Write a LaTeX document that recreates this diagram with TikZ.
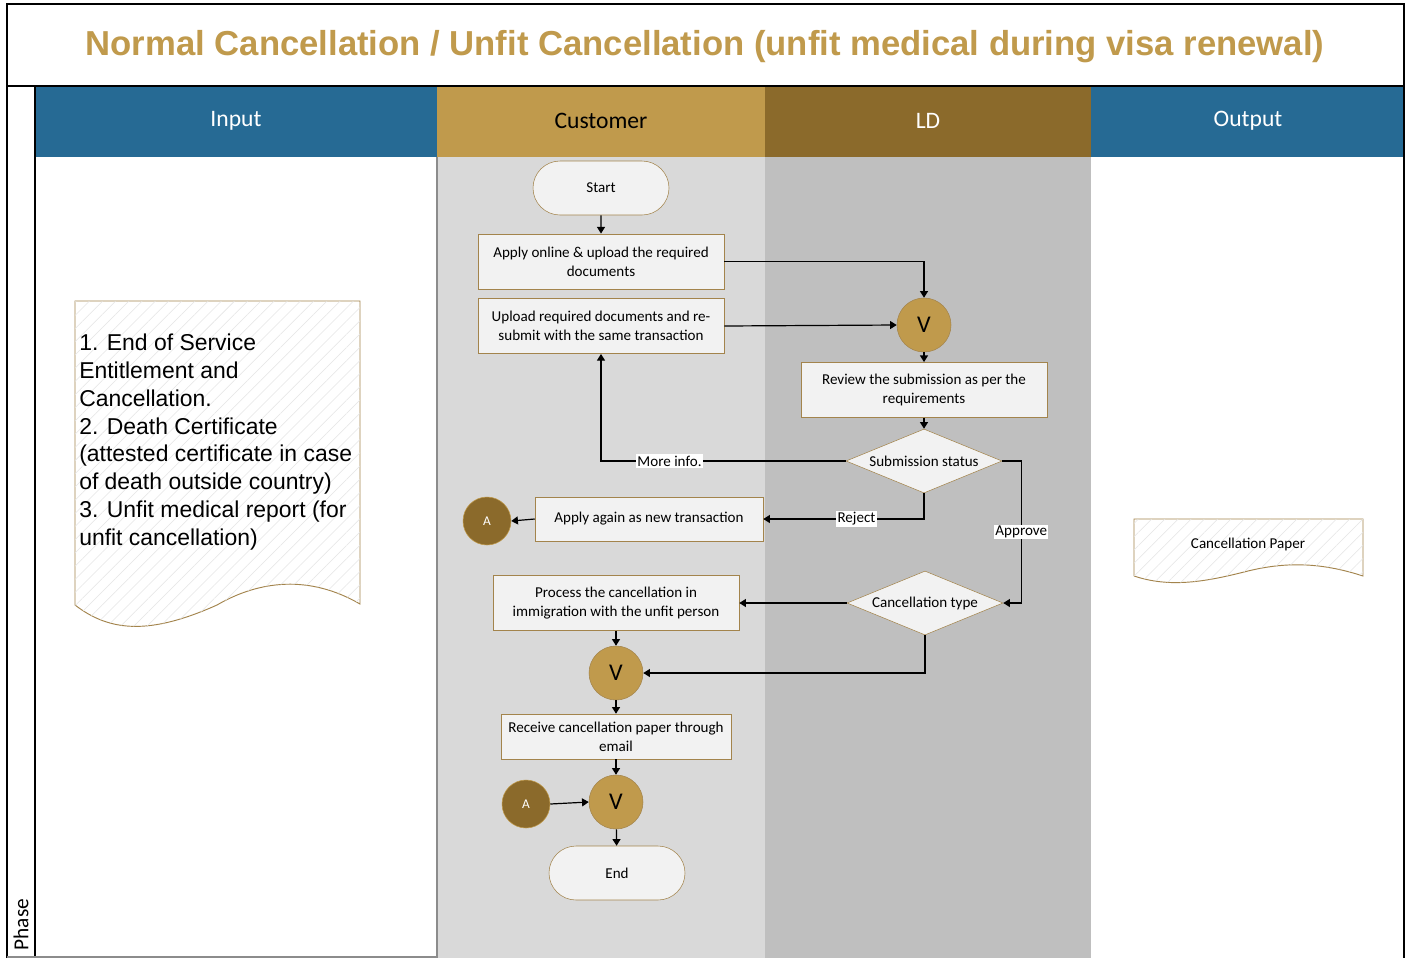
\documentclass[tikz,border=0pt]{standalone}
\usepackage{fontspec}
\setmainfont{Carlito}
\newfontfamily\arialfont{Liberation Sans}
\usetikzlibrary{positioning,arrows.meta,shapes.geometric,shapes.misc,patterns.meta}
\definecolor{hdblue}{HTML}{266A94}
\definecolor{hdgold}{HTML}{C09A4C}
\definecolor{hdbrown}{HTML}{8B6A2B}
\definecolor{lanecu}{HTML}{D9D9D9}
\definecolor{laneld}{HTML}{BFBFBF}
\definecolor{boxfill}{HTML}{F2F2F2}
\definecolor{boxline}{HTML}{A3844C}
\tikzset{proc/.style={draw=boxline,fill=boxfill,rectangle,minimum width=184.5pt,minimum
height=41.5pt,inner sep=2pt,align=center,text=black,font=\fontsize{11.3}{14.25}\selectfont},
term/.style={draw=boxline,fill=boxfill,rounded rectangle,minimum width=102pt,minimum
height=40.5pt,inner sep=0pt,font=\fontsize{11.3}{14.25}\selectfont},
dec/.style={draw=boxline,fill=boxfill,diamond,aspect=2.4,inner sep=0pt,minimum
width=117pt,minimum height=48pt,font=\fontsize{11.3}{14.25}\selectfont},
vj/.style={draw=boxline,fill=hdgold,circle,minimum size=40.5pt,inner sep=0pt,font=\fontsize{18}{18}\selectfont},
oc/.style={draw=hdgold,fill=hdbrown,circle,minimum size=36pt,inner sep=0pt,text=white,font=\fontsize{10}{10}\selectfont},
arr/.style={-{Triangle[length=5pt,width=6pt]},line width=0.9pt},
lbl/.style={fill=white,inner sep=1pt,font=\fontsize{11.3}{12}\selectfont},
lanehd/.style={font=\fontsize{17.7}{18}\selectfont},
docshape/.style={draw=boxline,line width=0.7pt,fill=white,postaction={pattern={Lines[angle=45,distance=7pt,line width=0.4pt]},pattern color=black!10}}}
\begin{document}
\begin{tikzpicture}[x=0.75pt,y=-0.75pt]
\useasboundingbox (0,0) rectangle (1410,958);
% swimlanes
\fill[white] (0,0) rectangle (1410,958);
\fill[lanecu] (437,157) rectangle (765,958);
\fill[laneld] (765,157) rectangle (1091,958);
\fill[hdblue] (35,86) rectangle (437,157);
\fill[hdgold] (437,86) rectangle (765,157);
\fill[hdbrown] (765,86) rectangle (1091,157);
\fill[hdblue] (1091,86) rectangle (1404,157);
\draw[line width=1pt] (7,958) -- (7,4) -- (1404,4) -- (1404,958);
\draw[line width=1pt] (7,86) -- (1404,86);
\draw[line width=1pt] (35,86) -- (35,958);
\draw[black!45,line width=0.8pt] (437,157) -- (437,958);
\draw[black!45,line width=0.8pt] (7,957) -- (437,957);
\node[text=hdgold,font=\arialfont\bfseries\fontsize{26}{30}\selectfont] (ttl) at (705,47) {Normal Cancellation / Unfit Cancellation (unfit medical during visa renewal)};
\node[lanehd,text=white] (hin) at (236,121) {Input};
\node[lanehd] (hcu) at (601,121) {Customer};
\node[lanehd,text=white] (hld) at (928,121) {LD};
\node[lanehd,text=white] (hout) at (1248,121) {Output};
\node[rotate=90,anchor=west,font=\fontsize{16}{16}\selectfont] (phase) at (21,955) {Phase};
% documents
\draw[docshape] (75,605) -- (75,301) -- (360,301) -- (360,604)
  .. controls (310,575) and (260,580) .. (217,605)
  .. controls (150,635) and (110,632) .. (75,605);
\node[anchor=west,align=left,inner sep=0pt,font=\arialfont\fontsize{17.2}{20.8}\selectfont] (indoc) at (79,442) {1. End of Service\\Entitlement and\\Cancellation.\\2. Death Certificate\\(attested certificate in case\\of death outside country)\\3. Unfit medical report (for\\unfit cancellation)};
\draw[docshape] (1134,576) -- (1134,519) -- (1363,519) -- (1363,576)
  .. controls (1320,562) and (1285,562) .. (1248,571)
  .. controls (1205,582) and (1170,588) .. (1134,576);
\node[font=\fontsize{11.3}{12}\selectfont] (outdoc) at (1248,544) {Cancellation Paper};
% flow nodes
\node[term] (start) at (601,188) {Start};
\node[proc] (apply) at (601,261.5) {Apply online \& upload the required\\documents};
\node[proc] (upload) at (601,326) {Upload required documents and re-\\submit with the same transaction};
\node[vj] (v1) at (924,325) {V};
\node[proc] (review) at (924,390) {Review the submission as per the\\requirements};
\node[dec] (subst) at (924,461) {Submission status};
\node[proc,minimum width=171pt,minimum height=33pt] (again) at (649,519) {Apply again as new transaction};
\node[oc] (a1) at (487,521) {A};
\node[dec] (ctype) at (925,603) {Cancellation type};
\node[proc] (process) at (616,603) {Process the cancellation in\\immigration with the unfit person};
\node[vj] (v2) at (616,673) {V};
\node[proc,minimum width=172.5pt,minimum height=33.75pt] (receive) at (616,736.5) {Receive cancellation paper through\\email};
\node[vj] (v3) at (616,802) {V};
\node[oc] (a2) at (526,804) {A};
\node[term] (end) at (617,873) {End};
% connectors
\draw[arr] (start) -- (apply);
\draw[arr] (apply.east) -| (v1.north);
\draw[arr] (upload.east) -- (v1.west);
\draw[arr] (v1) -- (review);
\draw[arr] (review) -- (subst);
\draw[arr] (subst.west) -| node[lbl,pos=0.36] {More info.} (upload.south);
\draw[arr] (subst.south) |- node[lbl,pos=0.71] {Reject} (again.east);
\draw[arr] (again.west) -- (a1.east);
\draw[arr] (subst.east) -- ++(19,0) |- node[lbl,pos=0.25] {Approve} (ctype.east);
\draw[arr] (ctype.west) -- (process.east);
\draw[arr] (process) -- (v2);
\draw[arr] (ctype.south) |- (v2.east);
\draw[arr] (v2) -- (receive);
\draw[arr] (receive) -- (v3);
\draw[arr] (a2.east) -- (v3.west);
\draw[arr] (v3) -- (end);
\end{tikzpicture}
\end{document}
